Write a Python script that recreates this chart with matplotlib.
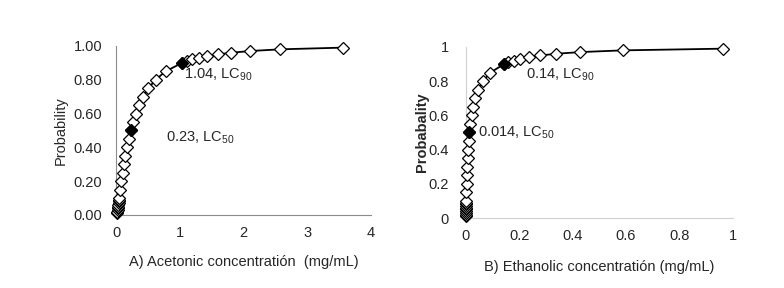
import matplotlib.pyplot as plt
from matplotlib.ticker import FormatStrFormatter

plt.rcParams['font.family'] = ['Liberation Sans', 'DejaVu Sans']
plt.rcParams['mathtext.fontset'] = 'custom'
plt.rcParams['mathtext.rm'] = 'Liberation Sans'

# probit probabilities
prob = [0.01, 0.02, 0.03, 0.04, 0.05, 0.06, 0.07, 0.08, 0.09, 0.10,
        0.15, 0.20, 0.25, 0.30, 0.35, 0.40, 0.45, 0.50, 0.55, 0.60,
        0.65, 0.70, 0.75, 0.80, 0.85, 0.90, 0.91, 0.92, 0.93, 0.94,
        0.95, 0.96, 0.97, 0.98, 0.99]

# A) acetonic concentration (mg/mL)
conc_a = [0.0149, 0.0205, 0.0252, 0.0293, 0.0332, 0.0369, 0.0405, 0.0441, 0.0475, 0.0509,
          0.068, 0.0855, 0.104, 0.124, 0.146, 0.171, 0.199, 0.23, 0.267, 0.31,
          0.362, 0.427, 0.509, 0.62, 0.778, 1.04, 1.11, 1.20, 1.31, 1.43,
          1.60, 1.81, 2.11, 2.58, 3.56]

# B) ethanolic concentration (mg/mL)
conc_b = [0.0002, 0.00033, 0.00046, 0.00058, 0.0007, 0.00083, 0.00096, 0.00109, 0.00122, 0.00136,
          0.00213, 0.00303, 0.00411, 0.0054, 0.00695, 0.00883, 0.0111, 0.014, 0.0176, 0.0222,
          0.0282, 0.0363, 0.0476, 0.0647, 0.092, 0.144, 0.16, 0.18, 0.205, 0.237,
          0.279, 0.338, 0.429, 0.588, 0.964]

lc_prob = [0.50, 0.90]
lc_a = [0.23, 1.04]
lc_b = [0.014, 0.144]

fig = plt.figure(figsize=(7.84, 2.88), dpi=100)
ax1 = fig.add_axes([0.148, 0.2535, 0.325, 0.587])
ax2 = fig.add_axes([0.594, 0.243, 0.3406, 0.594])

fs = 10.5
tc = '#262626'

for ax, x, lx in [(ax1, conc_a, lc_a), (ax2, conc_b, lc_b)]:
    ax.plot(x, prob, color='black', lw=1.3, marker='D', ms=6,
            mfc='white', mec='black', mew=0.9, zorder=3, clip_on=False)
    ax.plot(lx, lc_prob, ls='none', marker='D', ms=6, mfc='black',
            mec='black', zorder=4, clip_on=False)
    ax.set_ylim(0, 1)
    ax.set_yticks([0, 0.2, 0.4, 0.6, 0.8, 1.0])
    for s in ['top', 'right']:
        ax.spines[s].set_visible(False)
    ax.tick_params(length=0, labelsize=fs, labelcolor=tc)

# left panel
ax1.set_xlim(0, 4)
ax1.set_xticks([0, 1, 2, 3, 4])
ax1.yaxis.set_major_formatter(FormatStrFormatter('%.2f'))
ax1.tick_params(axis='x', pad=8)
ax1.tick_params(axis='y', pad=10)
for s in ['left', 'bottom']:
    ax1.spines[s].set_color('#8c8c8c')
ax1.set_ylabel('Probability', fontsize=fs, color=tc, labelpad=4)
ax1.set_xlabel('A) Acetonic concentratión  (mg/mL)', fontsize=fs, color=tc, labelpad=11)
ax1.text(1.06, 0.83, '1.04, LC$_{90}$', fontsize=fs, color=tc, va='center')
ax1.text(0.78, 0.46, '0.23, LC$_{50}$', fontsize=fs, color=tc, va='center')

# right panel
ax2.set_xlim(0, 1)
ax2.set_xticks([0, 0.2, 0.4, 0.6, 0.8, 1.0])
ax2.xaxis.set_major_formatter(FormatStrFormatter('%g'))
ax2.yaxis.set_major_formatter(FormatStrFormatter('%g'))
ax2.tick_params(axis='x', pad=8)
ax2.tick_params(axis='y', pad=12)
for s in ['left', 'bottom']:
    ax2.spines[s].set_color('#d0d0d0')
ax2.set_ylabel('Probabality', fontsize=fs, color=tc, fontweight='bold', labelpad=0)
ax2.set_xlabel('B) Ethanolic concentratión (mg/mL)', fontsize=fs, color=tc, labelpad=12)
ax2.text(0.225, 0.84, '0.14, LC$_{90}$', fontsize=fs, color=tc, va='center')
ax2.text(0.045, 0.50, '0.014, LC$_{50}$', fontsize=fs, color=tc, va='center')

fig.savefig('out.png', dpi=100)
